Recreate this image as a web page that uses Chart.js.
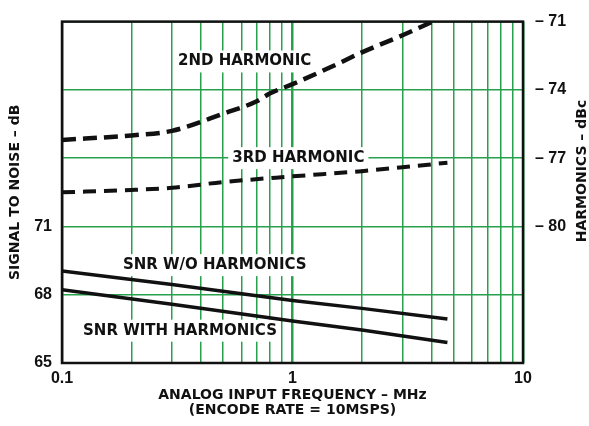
<!DOCTYPE html>
<html>
<head>
<meta charset="utf-8">
<script src="https://cdn.jsdelivr.net/npm/chart.js@4"></script>
<style>
  html, body { margin: 0; padding: 0; background: #fff; }
</style>
</head>
<body>
<canvas id="chart" width="589" height="426"></canvas>
<script>
// Values
const xTicks = [0.1, 0.2, 0.3, 0.4, 0.5, 0.6, 0.7, 0.8, 0.9, 1, 2, 3, 4, 5, 6, 7, 8, 9, 10];
const xLabels = [0.1, 1, 10];
const snrLabels = [65, 68, 71];
const harmLabels = [-71, -74, -77, -80];

const freq2nd = [0.1, 0.2, 0.3, 0.5, 0.7, 0.8, 1, 1.5, 2, 3, 4.05];
const harm2nd = [-76.2, -76.0, -75.8, -75.05, -74.5, -74.15, -73.75, -72.95, -72.35, -71.6, -71.0];

const freq3rd = [0.1, 0.2, 0.3, 0.5, 1, 2, 3, 4.7];
const harm3rd = [-78.5, -78.4, -78.3, -78.05, -77.8, -77.57, -77.4, -77.2];

const snrFreq = [0.1, 0.3, 1, 2, 4.7];
const snrNoHarm = [69.04, 68.45, 67.75, 67.4, 66.93];
const snrWithHarm = [68.22, 67.58, 66.85, 66.45, 65.9];

// Curve labels: [text, axis, frequency, value]
const curveLabels = [
    ['2ND HARMONIC', 'y2', 0.62, -72.75],
    ['3RD HARMONIC', 'y2', 1.06, -77.0],
    ['SNR W/O HARMONICS', 'y', 0.46, 69.3],
    ['SNR WITH HARMONICS', 'y', 0.325, 66.42]
];

const GRID = '#28a04c';
const INK = '#111';
const boldFont = (size) => ({ family: '"DejaVu Sans", sans-serif', size: size, weight: 'bold' });
const tickFont = { family: '"Liberation Sans", sans-serif', size: 16, weight: 'bold' };

function pts(xs, ys) {
    return xs.map((x, i) => ({ x: x, y: ys[i] }));
}

// Draws white-backed labels, the frame and the right-hand axis title
const decorPlugin = {
    id: 'decor',
    beforeDatasetsDraw(chart) {
        const ctx = chart.ctx;
        const xs = chart.scales.x;
        ctx.save();
        ctx.font = 'bold 15px "DejaVu Sans", sans-serif';
        ctx.textAlign = 'center';
        ctx.textBaseline = 'middle';
        curveLabels.forEach(([text, axis, f, v]) => {
            const px = xs.getPixelForValue(f);
            const py = chart.scales[axis].getPixelForValue(v);
            const w = ctx.measureText(text).width;
            ctx.fillStyle = '#fff';
            ctx.fillRect(px - w / 2 - 4, py - 11, w + 8, 22);
            ctx.fillStyle = INK;
            ctx.fillText(text, px, py);
        });
        ctx.restore();
    },
    afterDatasetsDraw(chart) {
        const ctx = chart.ctx;
        const a = chart.chartArea;
        ctx.save();
        ctx.strokeStyle = INK;
        ctx.lineWidth = 2.5;
        ctx.strokeRect(a.left, a.top, a.right - a.left, a.bottom - a.top);
        // right axis title reads bottom to top
        ctx.translate(582, 171);
        ctx.rotate(-Math.PI / 2);
        ctx.font = 'bold 14px "DejaVu Sans", sans-serif';
        ctx.textAlign = 'center';
        ctx.textBaseline = 'middle';
        ctx.fillStyle = INK;
        ctx.fillText('HARMONICS – dBc', 0, 0);
        ctx.restore();
    }
};

const ctx = document.getElementById('chart').getContext('2d');
const chart = new Chart(ctx, {
    type: 'scatter',
    data: {
        datasets: [
            {
                label: '2ND HARMONIC',
                data: pts(freq2nd, harm2nd),
                yAxisID: 'y2',
                showLine: true,
                borderColor: INK,
                borderWidth: 4.5,
                borderDash: [14, 7],
                cubicInterpolationMode: 'monotone',
                pointRadius: 0
            },
            {
                label: '3RD HARMONIC',
                data: pts(freq3rd, harm3rd),
                yAxisID: 'y2',
                showLine: true,
                borderColor: INK,
                borderWidth: 4,
                borderDash: [13, 8],
                cubicInterpolationMode: 'monotone',
                pointRadius: 0
            },
            {
                label: 'SNR W/O HARMONICS',
                data: pts(snrFreq, snrNoHarm),
                yAxisID: 'y',
                showLine: true,
                borderColor: INK,
                borderWidth: 3.5,
                pointRadius: 0
            },
            {
                label: 'SNR WITH HARMONICS',
                data: pts(snrFreq, snrWithHarm),
                yAxisID: 'y',
                showLine: true,
                borderColor: INK,
                borderWidth: 3.5,
                pointRadius: 0
            }
        ]
    },
    options: {
        responsive: false,
        animation: false,
        devicePixelRatio: 1,
        layout: { padding: { top: 14, left: 0, right: 0, bottom: 0 } },
        plugins: {
            legend: { display: false },
            tooltip: { enabled: false }
        },
        scales: {
            x: {
                type: 'logarithmic',
                min: 0.1,
                max: 10,
                afterBuildTicks: (scale) => {
                    scale.ticks = xTicks.map(v => ({ value: v }));
                },
                afterFit: (scale) => { scale.height = 63; },
                border: { display: false },
                grid: {
                    color: GRID,
                    drawTicks: false,
                    lineWidth: (c) => (xLabels.includes(c.tick.value) ? 2.5 : 1.5)
                },
                ticks: {
                    autoSkip: false,
                    maxRotation: 0,
                    padding: 6,
                    color: INK,
                    font: tickFont,
                    callback: (v) => (xLabels.includes(v) ? String(v) : '')
                },
                title: {
                    display: true,
                    text: ['ANALOG INPUT FREQUENCY – MHz', '(ENCODE RATE = 10MSPS)'],
                    color: INK,
                    font: Object.assign(boldFont(14), { lineHeight: 1.07 }),
                    padding: { top: 0, bottom: 8 }
                }
            },
            y: {
                position: 'left',
                min: 65,
                max: 80,
                afterFit: (scale) => { scale.width = 62; },
                border: { display: false },
                grid: { color: GRID, lineWidth: 1.5, drawTicks: false },
                ticks: {
                    stepSize: 3,
                    padding: 10,
                    color: INK,
                    font: tickFont,
                    callback: (v) => (snrLabels.includes(v) ? String(v) : '')
                },
                title: {
                    display: true,
                    text: 'SIGNAL TO NOISE – dB',
                    color: INK,
                    font: boldFont(14),
                    padding: { top: 7, bottom: 0 }
                }
            },
            y2: {
                position: 'right',
                min: -86,
                max: -71,
                afterFit: (scale) => { scale.width = 66; },
                border: { display: false },
                grid: { display: false, drawTicks: false },
                ticks: {
                    stepSize: 3,
                    padding: 12,
                    color: INK,
                    font: tickFont,
                    callback: (v) => (harmLabels.includes(v) ? '– ' + Math.abs(v) : '')
                }
            }
        }
    },
    plugins: [decorPlugin]
});
</script>
</body>
</html>
